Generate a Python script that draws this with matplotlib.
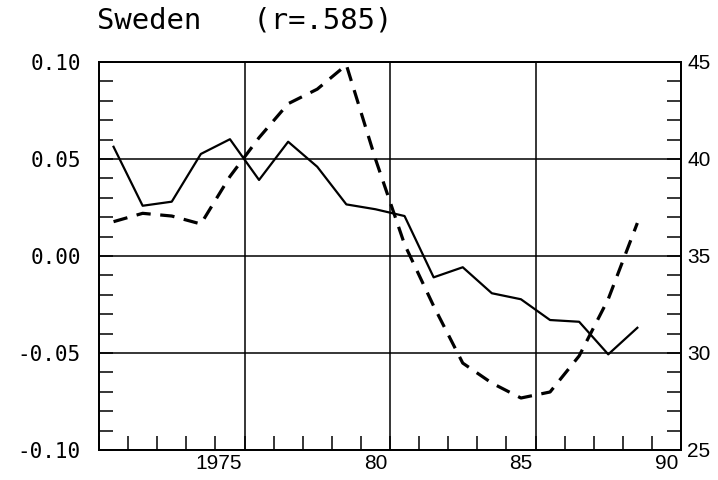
import matplotlib
matplotlib.use("Agg")
import matplotlib.pyplot as plt
import matplotlib.transforms as mtransforms
from matplotlib.ticker import FixedLocator, FixedFormatter, MultipleLocator

# ---- data ----
years = list(range(1970, 1989))
solid_vals = [0.0563, 0.0259, 0.0280, 0.0526, 0.0602, 0.0392, 0.0589, 0.0460,
              0.0266, 0.0241, 0.0206, -0.0110, -0.0058, -0.0192, -0.0223,
              -0.0330, -0.0339, -0.0507, -0.0370]
dashed_vals = [36.77, 37.20, 37.06, 36.65, 39.10, 41.10, 42.85, 43.60, 44.85,
               40.00, 35.60, 32.42, 29.48, 28.45, 27.68, 27.99, 29.85, 32.78,
               36.70]
x_tick_pos = [1975, 1980, 1985, 1990]
x_tick_labels = ["1975", "80", "85", "90"]
left_ticks = [-0.10, -0.05, 0.00, 0.05, 0.10]
left_labels = ["-0.10", "-0.05", "0.00", "0.05", "0.10"]
right_ticks = [25, 30, 35, 40, 45]
right_labels = ["25", "30", "35", "40", "45"]
title_text = "Sweden   (r=.585)"

xpos = [y + 0.5 for y in years]

fig = plt.figure(figsize=(7.18, 4.8), dpi=100)
ax = fig.add_axes([99 / 718, 30 / 480, 582 / 718, 388 / 480])

ax.plot(xpos, solid_vals, color="black", lw=1.6, zorder=3)
ax.set_xlim(1970, 1990)
ax.set_ylim(-0.10, 0.10)

ax.xaxis.set_major_locator(FixedLocator(x_tick_pos))
ax.xaxis.set_major_formatter(FixedFormatter(x_tick_labels))
ax.xaxis.set_minor_locator(MultipleLocator(1))
ax.yaxis.set_major_locator(FixedLocator(left_ticks))
ax.yaxis.set_major_formatter(FixedFormatter(left_labels))
ax.yaxis.set_minor_locator(MultipleLocator(0.01))

ax.grid(True, which="major", color="black", lw=1.1)
ax.tick_params(which="both", direction="in", length=10, width=1.1,
               top=False, right=False, color="black")
ax.tick_params(axis="y", which="major", pad=13)
ax.tick_params(axis="x", which="major", pad=3)

for lab in ax.get_yticklabels():
    lab.set_fontfamily("DejaVu Sans Mono")
    lab.set_fontsize(15)
for lab in ax.get_xticklabels():
    lab.set_fontfamily("Liberation Sans")
    lab.set_fontsize(15)
    lab.set_ha("right")
    lab.set_transform(lab.get_transform() +
                      mtransforms.ScaledTranslation(-2 / 72, 0, fig.dpi_scale_trans))

for sp in ax.spines.values():
    sp.set_linewidth(1.3)

ax2 = ax.twinx()
ax2.plot(xpos, dashed_vals, color="black", lw=2.3, linestyle=(0, (4.5, 3)),
         zorder=3)
ax2.set_ylim(25, 45)
ax2.yaxis.set_major_locator(FixedLocator(right_ticks))
ax2.yaxis.set_major_formatter(FixedFormatter(right_labels))
ax2.yaxis.set_minor_locator(MultipleLocator(1))
ax2.tick_params(which="both", direction="in", length=10, width=1.1,
                color="black")
ax2.tick_params(axis="y", which="major", pad=4.5)
for lab in ax2.get_yticklabels():
    lab.set_fontfamily("Liberation Sans")
    lab.set_fontsize(15)
for sp in ax2.spines.values():
    sp.set_linewidth(1.3)

fig.text(97 / 718, 1 - 28 / 480, title_text, ha="left", va="baseline",
         fontsize=20.8, family="DejaVu Sans Mono")

fig.savefig("out.png", dpi=100)
